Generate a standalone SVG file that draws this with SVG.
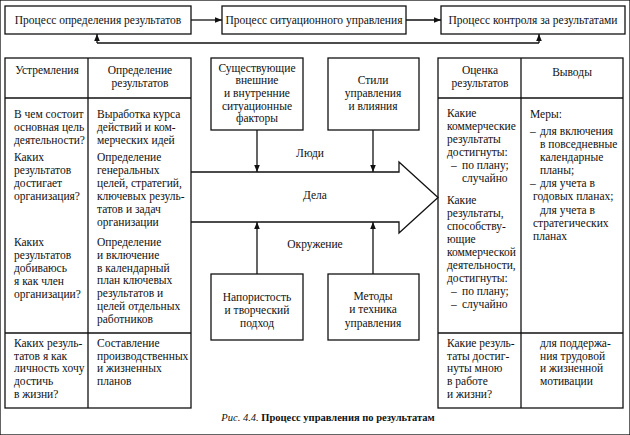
<svg xmlns="http://www.w3.org/2000/svg" width="630" height="435" viewBox="0 0 630 435">
<defs>
<marker id="ah" viewBox="0 0 10 10" refX="10" refY="5" markerWidth="7" markerHeight="7" orient="auto" markerUnits="userSpaceOnUse">
<path d="M0,1 L10,5 L0,9 Z" fill="#111"/>
</marker>
<style>
rect, .ln { fill: none; stroke: #111; stroke-width: 1.3; }
text { font-family: 'Liberation Serif', 'Times New Roman', serif; font-size: 11.5px; fill: #111; }
.c { text-anchor: middle; }
.cap { font-size: 10.5px; }
</style>
</defs>
<rect x="0" y="0" width="630" height="435" fill="#fff" stroke="none"/>

<g id="connectors">
<line class="ln" x1="191" y1="20" x2="222" y2="20" marker-end="url(#ah)"/>
<line class="ln" x1="406" y1="20" x2="441" y2="20" marker-end="url(#ah)"/>
<polyline class="ln" points="97,43 539,43"/>
<line class="ln" x1="97" y1="43" x2="97" y2="34" marker-end="url(#ah)"/>
<line class="ln" x1="539" y1="43" x2="539" y2="34" marker-end="url(#ah)"/>
<line class="ln" x1="257" y1="130" x2="257" y2="172" marker-end="url(#ah)"/>
<line class="ln" x1="373" y1="130" x2="373" y2="172" marker-end="url(#ah)"/>
<line class="ln" x1="257" y1="274" x2="257" y2="222" marker-end="url(#ah)"/>
<line class="ln" x1="373" y1="274" x2="373" y2="222" marker-end="url(#ah)"/>
</g>

<g id="p1"><rect x="5" y="6" width="186" height="28"/><text class="c" x="98" y="24">Процесс определения результатов</text></g>
<g id="p2"><rect x="222" y="6" width="184" height="28"/><text class="c" x="314" y="24">Процесс ситуационного управления</text></g>
<g id="p3"><rect x="441" y="6" width="184" height="28"/><text class="c" x="533" y="24">Процесс контроля за результатами</text></g>

<g id="left-table">
<rect x="5" y="58" width="186" height="350"/>
<line class="ln" x1="88" y1="58" x2="88" y2="408"/>
<line class="ln" x1="5" y1="98" x2="191" y2="98"/>
<line class="ln" x1="5" y1="333" x2="191" y2="333"/>
<text class="c" x="47" y="74">Устремления</text>
<text class="c" x="140" y="74">Определение</text>
<text class="c" x="140" y="87">результатов</text>
<text x="14" y="118">В чем состоит</text>
<text x="14" y="131">основная цель</text>
<text x="14" y="144">деятельности?</text>
<text x="14" y="161">Каких</text>
<text x="14" y="174">результатов</text>
<text x="14" y="187">достигает</text>
<text x="14" y="200">организация?</text>
<text x="14" y="246">Каких</text>
<text x="14" y="259">результатов</text>
<text x="14" y="272">добиваюсь</text>
<text x="14" y="285">я как член</text>
<text x="14" y="298">организации?</text>
<text x="14" y="347">Каких резуль-</text>
<text x="14" y="360">татов я как</text>
<text x="14" y="372">личность хочу</text>
<text x="14" y="385">достичь</text>
<text x="14" y="398">в жизни?</text>
<text x="97" y="118">Выработка курса</text>
<text x="97" y="131">действий и ком-</text>
<text x="97" y="144">мерческих идей</text>
<text x="97" y="161">Определение</text>
<text x="97" y="174">генеральных</text>
<text x="97" y="187">целей, стратегий,</text>
<text x="97" y="200">ключевых резуль-</text>
<text x="97" y="213">татов и задач</text>
<text x="97" y="226">организации</text>
<text x="97" y="246">Определение</text>
<text x="97" y="259">и включение</text>
<text x="97" y="272">в календарный</text>
<text x="97" y="284">план ключевых</text>
<text x="97" y="297">результатов и</text>
<text x="97" y="310">целей отдельных</text>
<text x="97" y="323">работников</text>
<text x="97" y="347">Составление</text>
<text x="97" y="360">производственных</text>
<text x="97" y="372">и жизненных</text>
<text x="97" y="385">планов</text>
</g>

<g id="f1"><rect x="211" y="58" width="92" height="72"/>
<text class="c" x="257" y="72">Существующие</text>
<text class="c" x="257" y="84">внешние</text>
<text class="c" x="257" y="97">и внутренние</text>
<text class="c" x="257" y="110">ситуационные</text>
<text class="c" x="257" y="122">факторы</text></g>
<g id="f2"><rect x="328" y="58" width="91" height="72"/>
<text class="c" x="373" y="84">Стили</text>
<text class="c" x="373" y="97">управления</text>
<text class="c" x="373" y="110">и влияния</text></g>

<g id="big-arrow">
<path class="ln" d="M191,172 H399 V162 L438,197.5 L399,233 V222 H191"/>
<text class="c" x="310" y="157">Люди</text>
<text class="c" x="315" y="199">Дела</text>
<text class="c" x="315" y="248">Окружение</text>
</g>

<g id="f3"><rect x="211" y="274" width="92" height="66"/>
<text class="c" x="257" y="301">Напористость</text>
<text class="c" x="257" y="314">и творческий</text>
<text class="c" x="257" y="327">подход</text></g>
<g id="f4"><rect x="328" y="274" width="91" height="66"/>
<text class="c" x="373" y="300">Методы</text>
<text class="c" x="373" y="313">и техника</text>
<text class="c" x="373" y="327">управления</text></g>

<g id="right-table">
<rect x="438" y="58" width="185" height="350"/>
<line class="ln" x1="521" y1="58" x2="521" y2="408"/>
<line class="ln" x1="438" y1="98" x2="623" y2="98"/>
<line class="ln" x1="438" y1="333" x2="623" y2="333"/>
<text class="c" x="480" y="74">Оценка</text>
<text class="c" x="480" y="87">результатов</text>
<text class="c" x="572" y="76">Выводы</text>
<text x="447" y="117">Какие</text>
<text x="447" y="130">коммерческие</text>
<text x="447" y="143">результаты</text>
<text x="447" y="156">достигнуты:</text>
<text x="451" y="169">–</text><text x="462" y="169">по плану;</text>
<text x="462" y="182">случайно</text>
<text x="447" y="204">Какие</text>
<text x="447" y="217">результаты,</text>
<text x="447" y="230">способству-</text>
<text x="447" y="243">ющие</text>
<text x="447" y="256">коммерческой</text>
<text x="447" y="269">деятельности,</text>
<text x="447" y="282">достигнуты:</text>
<text x="451" y="295">–</text><text x="462" y="295">по плану;</text>
<text x="451" y="308">–</text><text x="462" y="308">случайно</text>
<text x="447" y="347">Какие резуль-</text>
<text x="447" y="360">таты достиг-</text>
<text x="447" y="372">нуты мною</text>
<text x="447" y="385">в работе</text>
<text x="447" y="398">и жизни?</text>
<text x="530" y="118">Меры:</text>
<text x="530" y="135">–</text><text x="540" y="135">для включения</text>
<text x="540" y="148">в повседневные</text>
<text x="540" y="161">календарные</text>
<text x="540" y="174">планы;</text>
<text x="530" y="187">–</text><text x="540" y="187">для учета в</text>
<text x="533" y="200">годовых планах;</text>
<text x="540" y="214">для учета в</text>
<text x="533" y="227">стратегических</text>
<text x="533" y="240">планах</text>
<text x="540" y="347">для поддержа-</text>
<text x="540" y="360">ния трудовой</text>
<text x="540" y="372">и жизненной</text>
<text x="540" y="385">мотивации</text>
</g>

<text class="c cap" x="328" y="421"><tspan font-style="italic">Рис. 4.4.</tspan> <tspan font-weight="bold">Процесс управления по результатам</tspan></text>
</svg>
